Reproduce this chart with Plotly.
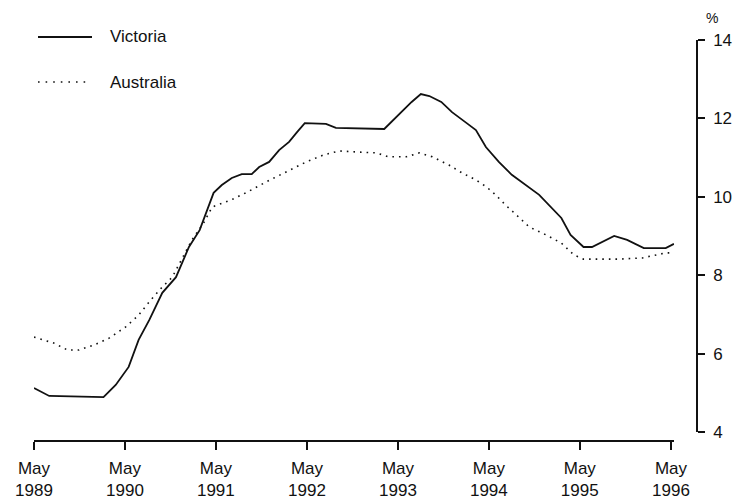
import plotly.graph_objects as go

# Victoria unemployment rate (%), trend
vic_dates = ["1989-05-01", "1989-07-01", "1990-02-04", "1990-03-25", "1990-05-16", "1990-06-25",
             "1990-08-07", "1990-09-28", "1990-11-22", "1991-01-13", "1991-02-25", "1991-03-22",
             "1991-04-22", "1991-05-25", "1991-07-04", "1991-08-13", "1991-09-22", "1991-10-22",
             "1991-12-01", "1992-01-10", "1992-02-19", "1992-03-22", "1992-04-22", "1992-07-16",
             "1992-08-25", "1993-03-07", "1993-05-16", "1993-06-25", "1993-08-01", "1993-09-04",
             "1993-10-22", "1993-12-04", "1994-02-01", "1994-03-10", "1994-04-19", "1994-06-10",
             "1994-08-01", "1994-09-28", "1994-11-19", "1995-02-16", "1995-03-25", "1995-05-16",
             "1995-06-19", "1995-09-16", "1995-11-07", "1996-01-13", "1996-04-10", "1996-05-13"]
vic_values = [5.12, 4.92, 4.89, 5.20, 5.66, 6.35,
              6.86, 7.55, 7.95, 8.72, 9.15, 9.59,
              10.10, 10.30, 10.48, 10.58, 10.58, 10.76,
              10.89, 11.19, 11.40, 11.65, 11.88, 11.86,
              11.76, 11.73, 12.16, 12.42, 12.62, 12.57,
              12.42, 12.16, 11.88, 11.70, 11.27, 10.89,
              10.56, 10.30, 10.05, 9.46, 9.03, 8.72,
              8.72, 9.00, 8.90, 8.69, 8.69, 8.80]

# Australia unemployment rate (%), trend
aus_dates = ["1989-05-01", "1989-07-19", "1989-09-13", "1989-10-28", "1989-12-28", "1990-02-28",
             "1990-05-04", "1990-06-25", "1990-08-13", "1990-09-28", "1990-11-07", "1991-01-25",
             "1991-03-13", "1991-04-16", "1991-07-01", "1991-09-04", "1991-11-19", "1992-02-07",
             "1992-04-28", "1992-07-07", "1992-09-07", "1992-11-28", "1993-02-04", "1993-03-25",
             "1993-06-04", "1993-07-25", "1993-09-16", "1993-11-22", "1994-01-13", "1994-03-10",
             "1994-04-22", "1994-05-28", "1994-07-07", "1994-08-19", "1994-10-10", "1994-12-16",
             "1995-02-16", "1995-04-07", "1995-05-16", "1995-10-04", "1996-01-07", "1996-04-10",
             "1996-05-13"]
aus_values = [6.42, 6.27, 6.09, 6.09, 6.22, 6.40,
              6.68, 6.98, 7.37, 7.70, 7.95, 8.90,
              9.33, 9.74, 9.92, 10.12, 10.38, 10.63,
              10.89, 11.07, 11.17, 11.14, 11.12, 11.02,
              11.02, 11.12, 11.02, 10.81, 10.61, 10.43,
              10.25, 10.05, 9.79, 9.54, 9.23, 9.03,
              8.82, 8.52, 8.41, 8.41, 8.44, 8.57,
              8.57]

x_tick_vals = ["1989-05-01", "1990-05-01", "1991-05-01", "1992-05-01",
               "1993-05-01", "1994-05-01", "1995-05-01", "1996-05-01"]
x_tick_text = ["May<br>1989", "May<br>1990", "May<br>1991", "May<br>1992",
               "May<br>1993", "May<br>1994", "May<br>1995", "May<br>1996"]
y_tick_vals = [4, 6, 8, 10, 12, 14]

FONT = "Liberation Sans, Arial, Helvetica, sans-serif"
INK = "#111111"

fig = go.Figure()
fig.add_trace(go.Scatter(x=vic_dates, y=vic_values, mode="lines", name="Victoria",
                         line=dict(color=INK, width=1.8), showlegend=False))
fig.add_trace(go.Scatter(x=aus_dates, y=aus_values, mode="lines", name="Australia",
                         line=dict(color=INK, width=1.6, dash="1.6px,5px"), showlegend=False))

# the page body adds an 8px offset; the figure is sized to fill the rest of the window
OFF = 8
W, H = 745 - OFF, 503 - OFF
L, R, T, B = 34 - OFF, 48, 40 - OFF, 62
pw = W - L - R
ph = H - T - B

fig.update_layout(
    width=W, height=H,
    margin=dict(l=L, r=R, t=T, b=B, autoexpand=False),
    paper_bgcolor="white", plot_bgcolor="white",
    font=dict(family=FONT, color=INK, size=17),
    xaxis=dict(
        type="date",
        range=["1989-05-01", "1996-05-14"],
        domain=[0, 0.9656],
        anchor="free", position=0,
        tickvals=x_tick_vals, ticktext=x_tick_text,
        ticks="outside", ticklen=8, tickwidth=1.5, tickcolor=INK,
        showline=True, linecolor=INK, linewidth=1.8,
        showgrid=False, zeroline=False,
        tickfont=dict(size=17, family=FONT, color=INK),
        ticklabelstandoff=4,
    ),
    yaxis=dict(
        range=[4, 14],
        domain=[9 / ph, 1],
        side="right", anchor="free", position=1,
        tickvals=y_tick_vals,
        ticks="outside", ticklen=7, tickwidth=1.5, tickcolor=INK,
        showline=True, linecolor=INK, linewidth=1.5,
        showgrid=False, zeroline=False,
        tickfont=dict(size=17, family=FONT, color=INK),
        ticklabelstandoff=5,
    ),
)


def px_x(v):
    return (v - OFF - L) / pw


def px_y(v):
    return (H - B - (v - OFF)) / ph


# unit label above the value axis
fig.add_annotation(text="%", xref="paper", yref="paper", x=px_x(712), y=px_y(18),
                   xanchor="center", yanchor="middle",
                   showarrow=False, font=dict(size=14, family=FONT, color=INK))

# key
fig.add_shape(type="line", xref="paper", yref="paper",
              x0=px_x(38), x1=px_x(92), y0=px_y(37), y1=px_y(37),
              line=dict(color=INK, width=1.8))
fig.add_shape(type="line", xref="paper", yref="paper",
              x0=px_x(38), x1=px_x(90), y0=px_y(82), y1=px_y(82),
              line=dict(color=INK, width=1.6, dash="1.6px,6px"))
fig.add_annotation(text="Victoria", xref="paper", yref="paper", x=px_x(108), y=px_y(37),
                   xanchor="left", yanchor="middle", showarrow=False,
                   font=dict(size=17, family=FONT, color=INK))
fig.add_annotation(text="Australia", xref="paper", yref="paper", x=px_x(108), y=px_y(82),
                   xanchor="left", yanchor="middle", showarrow=False,
                   font=dict(size=17, family=FONT, color=INK))

fig.write_html("out.html")
